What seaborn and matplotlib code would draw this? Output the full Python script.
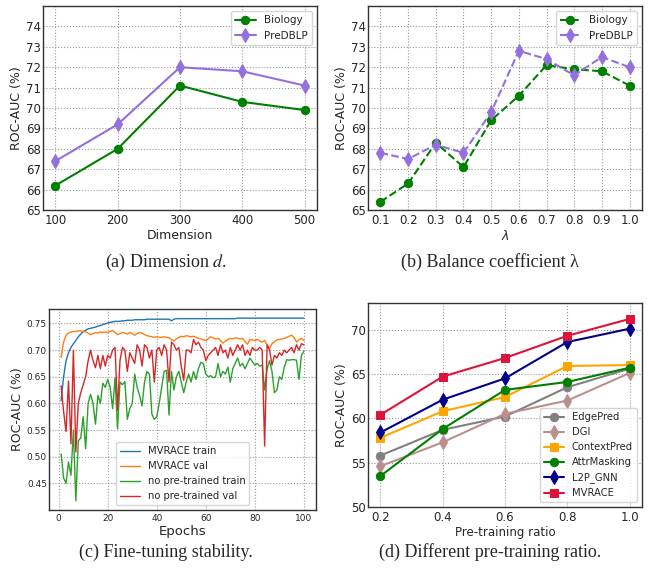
import matplotlib
matplotlib.use("Agg")
import matplotlib.pyplot as plt
import seaborn as sns

# (a) dimension
dims = [100, 200, 300, 400, 500]
dim_biology = [66.2, 68.0, 71.1, 70.3, 69.9]
dim_predblp = [67.4, 69.2, 72.0, 71.8, 71.1]

# (b) balance coefficient
lambdas = [0.1, 0.2, 0.3, 0.4, 0.5, 0.6, 0.7, 0.8, 0.9, 1.0]
lam_biology = [65.4, 66.3, 68.3, 67.1, 69.4, 70.6, 72.1, 71.9, 71.8, 71.1]
lam_predblp = [67.8, 67.5, 68.2, 67.8, 69.8, 72.8, 72.4, 71.6, 72.5, 72.0]

# (c) fine-tuning curves, epochs 1..100
epochs = list(range(1, 101))
mvrace_train = [
    0.605, 0.650, 0.680, 0.695, 0.705, 0.712, 0.718, 0.725, 0.730, 0.735,
    0.737, 0.740, 0.741, 0.742, 0.743, 0.745, 0.746, 0.748, 0.749, 0.751,
    0.752, 0.753, 0.754, 0.754, 0.754, 0.755, 0.755, 0.756, 0.756, 0.756,
    0.757, 0.757, 0.757, 0.757, 0.757, 0.758, 0.758, 0.758, 0.758, 0.758,
    0.758, 0.758, 0.758, 0.758, 0.758, 0.755, 0.758, 0.759, 0.759, 0.759,
    0.759, 0.759, 0.759, 0.759, 0.759, 0.759, 0.759, 0.759, 0.759, 0.759,
    0.759, 0.759, 0.759, 0.759, 0.759, 0.759, 0.759, 0.759, 0.759, 0.759,
    0.759, 0.759, 0.760, 0.760, 0.760, 0.760, 0.760, 0.760, 0.760, 0.760,
    0.760, 0.760, 0.760, 0.760, 0.760, 0.760, 0.760, 0.760, 0.760, 0.760,
    0.760, 0.760, 0.760, 0.760, 0.760, 0.760, 0.760, 0.760, 0.760, 0.760,
]
mvrace_val = [
    0.686, 0.715, 0.728, 0.732, 0.734, 0.735, 0.735, 0.736, 0.736, 0.735,
    0.734, 0.732, 0.729, 0.731, 0.733, 0.732, 0.734, 0.733, 0.734, 0.733,
    0.735, 0.737, 0.733, 0.729, 0.731, 0.733, 0.732, 0.730, 0.733, 0.731,
    0.728, 0.731, 0.733, 0.732, 0.729, 0.727, 0.726, 0.725, 0.724, 0.725,
    0.724, 0.724, 0.725, 0.724, 0.723, 0.720, 0.717, 0.721, 0.724, 0.726,
    0.725, 0.727, 0.726, 0.725, 0.726, 0.724, 0.722, 0.721, 0.719, 0.718,
    0.721, 0.725, 0.723, 0.721, 0.722, 0.718, 0.713, 0.717, 0.720, 0.722,
    0.721, 0.723, 0.722, 0.721, 0.722, 0.716, 0.711, 0.720, 0.719, 0.718,
    0.720, 0.717, 0.715, 0.718, 0.710, 0.703, 0.712, 0.716, 0.719, 0.720,
    0.721, 0.722, 0.724, 0.726, 0.728, 0.724, 0.715, 0.719, 0.722, 0.718,
]
scratch_train = [
    0.505, 0.460, 0.450, 0.490, 0.465, 0.550, 0.417, 0.530, 0.535, 0.575,
    0.515, 0.600, 0.617, 0.600, 0.561, 0.615, 0.600, 0.638, 0.630, 0.645,
    0.630, 0.590, 0.648, 0.552, 0.640, 0.635, 0.641, 0.570, 0.590, 0.600,
    0.655, 0.630, 0.615, 0.595, 0.640, 0.660, 0.655, 0.580, 0.570, 0.575,
    0.600, 0.630, 0.660, 0.662, 0.578, 0.660, 0.625, 0.650, 0.660, 0.640,
    0.620, 0.640, 0.655, 0.640, 0.660, 0.645, 0.665, 0.677, 0.675, 0.655,
    0.650, 0.652, 0.648, 0.650, 0.675, 0.650, 0.660, 0.655, 0.668, 0.640,
    0.665, 0.675, 0.685, 0.670, 0.675, 0.665, 0.675, 0.685, 0.678, 0.672,
    0.675, 0.670, 0.672, 0.625, 0.665, 0.680, 0.660, 0.620, 0.625, 0.650,
    0.645, 0.668, 0.682, 0.681, 0.682, 0.682, 0.681, 0.645, 0.690, 0.698,
]
scratch_val = [
    0.633, 0.585, 0.547, 0.642, 0.524, 0.700, 0.509, 0.600, 0.620, 0.635,
    0.650, 0.680, 0.700, 0.680, 0.667, 0.690, 0.665, 0.690, 0.670, 0.690,
    0.685, 0.700, 0.705, 0.587, 0.680, 0.705, 0.700, 0.660, 0.695, 0.685,
    0.675, 0.710, 0.700, 0.670, 0.710, 0.705, 0.685, 0.700, 0.640, 0.700,
    0.705, 0.690, 0.710, 0.700, 0.640, 0.715, 0.710, 0.700, 0.705, 0.670,
    0.643, 0.700, 0.700, 0.695, 0.720, 0.710, 0.715, 0.705, 0.700, 0.680,
    0.690, 0.695, 0.700, 0.705, 0.690, 0.710, 0.695, 0.700, 0.685, 0.705,
    0.690, 0.700, 0.710, 0.700, 0.710, 0.690, 0.700, 0.690, 0.705, 0.700,
    0.700, 0.705, 0.700, 0.520, 0.710, 0.700, 0.672, 0.690, 0.685, 0.695,
    0.690, 0.700, 0.695, 0.700, 0.705, 0.695, 0.710, 0.700, 0.712, 0.710,
]

# (d) pre-training ratio
ratios = [0.2, 0.4, 0.6, 0.8, 1.0]
ratio_methods = ["EdgePred", "DGI", "ContextPred", "AttrMasking", "L2P_GNN", "MVRACE"]
ratio_scores = [
    [55.8, 58.7, 60.2, 63.5, 65.6],
    [54.6, 57.3, 60.5, 62.0, 65.1],
    [57.8, 60.8, 62.4, 65.9, 66.0],
    [53.5, 58.8, 63.2, 64.1, 65.7],
    [58.4, 62.1, 64.5, 68.6, 70.1],
    [60.4, 64.7, 66.8, 69.3, 71.2],
]
ratio_colors = ["gray", "rosybrown", "orange", "green", "darkblue", "crimson"]
ratio_markers = ["o", "d", "s", "o", "d", "s"]

sns.set_style("ticks")
plt.rcParams["font.family"] = ["DejaVu Sans"]

W, H = 649, 574
fig = plt.figure(figsize=(W / 100, H / 100), dpi=100)


def px_axes(left, top, right, bottom):
    return fig.add_axes([left / W, 1 - bottom / H, (right - left) / W, (bottom - top) / H])


def style(ax, tick_size):
    ax.grid(True, linestyle=":", color="#999999", linewidth=0.8)
    ax.tick_params(labelsize=tick_size, length=0)
    ax.tick_params(axis="y", pad=1.5)
    ax.tick_params(axis="x", pad=3)
    ax.yaxis.labelpad = 2
    for s in ax.spines.values():
        s.set_color("#333333")
        s.set_linewidth(1.0)


# (a)
ax_a = px_axes(43, 6, 317, 210)
sns.lineplot(x=dims, y=dim_biology, ax=ax_a, color="green", marker="o", markersize=6,
             markeredgecolor="green", linewidth=1.5, label="Biology")
sns.lineplot(x=dims, y=dim_predblp, ax=ax_a, color="mediumpurple", marker="d", markersize=7,
             markeredgecolor="mediumpurple", linewidth=1.5, label="PreDBLP")
ax_a.set_ylim(65, 75)
ax_a.set_yticks(range(65, 75))
ax_a.set_xticks(dims)
ax_a.set_xlabel("Dimension", fontsize=9, labelpad=1)
ax_a.set_ylabel("ROC-AUC (%)", fontsize=9)
style(ax_a, 8.5)
ax_a.legend(loc="upper right", fontsize=7.5)

# (b)
ax_b = px_axes(368, 6, 642, 210)
sns.lineplot(x=lambdas, y=lam_biology, ax=ax_b, color="green", marker="o", markersize=6,
             markeredgecolor="green", linewidth=1.5, linestyle="--", label="Biology")
sns.lineplot(x=lambdas, y=lam_predblp, ax=ax_b, color="mediumpurple", marker="d", markersize=7,
             markeredgecolor="mediumpurple", linewidth=1.5, linestyle="--", label="PreDBLP")
ax_b.set_ylim(65, 75)
ax_b.set_yticks(range(65, 75))
ax_b.set_xticks(lambdas)
ax_b.set_xticklabels([f"{v:.1f}" for v in lambdas])
ax_b.set_xlabel(r"$\lambda$", fontsize=9, labelpad=1)
ax_b.set_ylabel("ROC-AUC (%)", fontsize=9)
style(ax_b, 8.5)
ax_b.legend(loc="upper right", fontsize=7.5)

# (c)
ax_c = px_axes(49, 309, 316, 510)
tab = sns.color_palette("tab10")
for vals, col, lab in [(mvrace_train, tab[0], "MVRACE train"),
                       (mvrace_val, tab[1], "MVRACE val"),
                       (scratch_train, tab[2], "no pre-trained train"),
                       (scratch_val, tab[3], "no pre-trained val")]:
    sns.lineplot(x=epochs, y=vals, ax=ax_c, color=col, linewidth=1.0, label=lab)
ax_c.set_xticks([0, 20, 40, 60, 80, 100])
ax_c.set_yticks([0.45, 0.50, 0.55, 0.60, 0.65, 0.70, 0.75])
ax_c.set_xlabel("Epochs", fontsize=9.5, labelpad=1)
ax_c.set_ylabel("ROC-AUC (%)", fontsize=9)
style(ax_c, 6.5)
ax_c.legend(loc="lower center", fontsize=7.2)

# (d)
ax_d = px_axes(368, 303, 642, 507)
for name, vals, col, mk in zip(ratio_methods, ratio_scores, ratio_colors, ratio_markers):
    sns.lineplot(x=ratios, y=vals, ax=ax_d, color=col, marker=mk,
                 markersize=7 if mk == "d" else 6, markeredgecolor=col,
                 linewidth=1.5, label=name)
ax_d.set_ylim(50, 73)
ax_d.set_yticks([50, 55, 60, 65, 70])
ax_d.set_xticks(ratios)
ax_d.set_xlabel("Pre-training ratio", fontsize=8.5, labelpad=1)
ax_d.set_ylabel("ROC-AUC (%)", fontsize=9)
style(ax_d, 8.5)
ax_d.legend(loc="lower right", fontsize=7.2)

# captions
cap = dict(fontsize=13, family="Liberation Serif", ha="center", va="center")
fig.text(166 / W, 1 - 262 / H, "(a) Dimension $d$.", math_fontfamily="stix", **cap)
fig.text(490 / W, 1 - 262 / H, "(b) Balance coefficient λ", **cap)
fig.text(166 / W, 1 - 552 / H, "(c) Fine-tuning stability.", **cap)
fig.text(490 / W, 1 - 552 / H, "(d) Different pre-training ratio.", **cap)

fig.savefig("out.png", dpi=100)
